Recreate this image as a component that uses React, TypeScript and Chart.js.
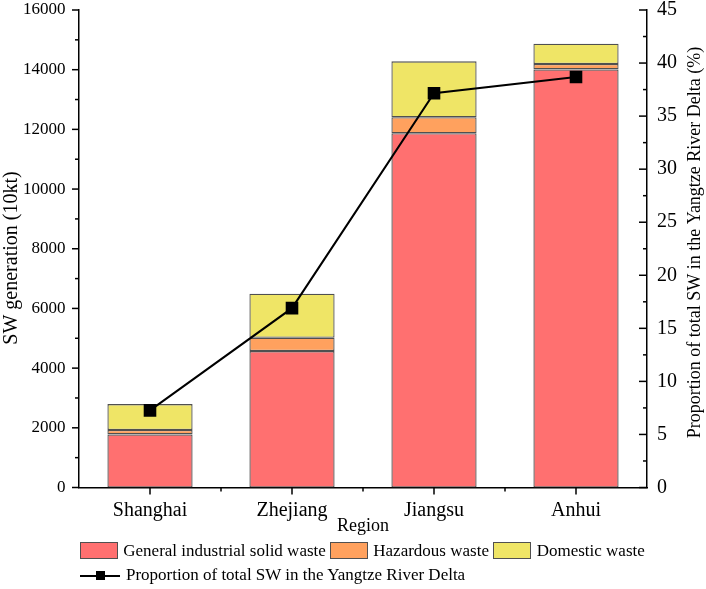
import React, { useEffect, useRef } from "react";
import { Chart, registerables } from "chart.js";

Chart.register(...registerables);

const regions = ["Shanghai", "Zhejiang", "Jiangsu", "Anhui"];
const generalIndustrial = [1780, 4570, 11870, 14010];
const hazardous = [145, 450, 535, 180];
const domestic = [870, 1475, 1875, 680];
const proportion = [7.27, 16.9, 37.15, 38.68];

const seriesNames = [
  "General industrial solid waste",
  "Hazardous waste",
  "Domestic waste",
];
const lineName = "Proportion of total SW in the Yangtze River Delta";
const leftTitle = "SW generation (10kt)";
const rightTitle = "Proportion of total SW in the Yangtze River Delta (%)";
const xTitle = "Region";

const colors = ["#FF7070", "#FFA15E", "#EFE566"];
const barBorder = "#505050";
const serif = '"Liberation Serif", "Times New Roman", serif';

// minor ticks, inward right ticks and the two rotated axis titles
const axisDecor = {
  id: "axisDecor",
  afterDraw(chart: any) {
    const { ctx, chartArea } = chart;
    const { left, right, bottom } = chartArea;
    const y = chart.scales.y;
    const y1 = chart.scales.y1;
    const x = chart.scales.x;
    ctx.save();
    ctx.strokeStyle = "#000";
    ctx.lineWidth = 1.5;
    const seg = (x0: number, y0: number, x2: number, y2: number) => {
      ctx.beginPath();
      ctx.moveTo(x0, y0);
      ctx.lineTo(x2, y2);
      ctx.stroke();
    };
    for (let v = 0; v <= 16000; v += 1000) {
      const py = y.getPixelForValue(v);
      seg(left - (v % 2000 === 0 ? 7 : 4), py, left, py);
    }
    for (let v = 0; v <= 45; v += 2.5) {
      const py = y1.getPixelForValue(v);
      seg(right - (v % 5 === 0 ? 8 : 4), py, right, py);
    }
    for (let i = 0; i < regions.length; i++) {
      const px = x.getPixelForValue(i);
      seg(px, bottom, px, bottom + 7);
      if (i < regions.length - 1) {
        const mx = (px + x.getPixelForValue(i + 1)) / 2;
        seg(mx, bottom, mx, bottom + 4);
      }
    }
    ctx.fillStyle = "#000";
    ctx.textAlign = "center";
    ctx.textBaseline = "alphabetic";

    ctx.save();
    ctx.font = `20px ${serif}`;
    ctx.translate(17, 258);
    ctx.rotate(-Math.PI / 2);
    ctx.fillText(leftTitle, 0, 0);
    ctx.restore();

    ctx.save();
    ctx.font = `18px ${serif}`;
    ctx.translate(700, 242.5);
    ctx.rotate(-Math.PI / 2);
    ctx.fillText(rightTitle, 0, 0);
    ctx.restore();

    ctx.restore();
  },
};

const ChartView: React.FC = () => {
  const chartRef = useRef<HTMLCanvasElement | null>(null);
  const chartInstance = useRef<Chart | null>(null);

  useEffect(() => {
    if (!chartRef.current) return;
    if (chartInstance.current) chartInstance.current.destroy();

    const barSet = (label: string, data: number[], color: string) => ({
      type: "bar" as const,
      label,
      data,
      backgroundColor: color,
      borderColor: barBorder,
      borderWidth: 1.3,
      borderSkipped: false,
      barPercentage: 0.6,
      categoryPercentage: 1,
      yAxisID: "y",
      order: 1,
    });

    // keep the plot box fixed: 79..647 wide, 10..487.5 high
    const fixVertical = (width: number) => (s: any) => {
      s.width = width;
      s.paddingTop = 10;
      s.paddingBottom = 0;
    };

    chartInstance.current = new Chart(chartRef.current, {
      type: "bar",
      data: {
        labels: regions,
        datasets: [
          {
            type: "line",
            label: lineName,
            data: proportion,
            borderColor: "#000",
            backgroundColor: "#000",
            borderWidth: 2,
            pointStyle: "rect",
            pointRadius: 7.5,
            pointBackgroundColor: "#000",
            pointBorderColor: "#000",
            yAxisID: "y1",
            order: 0,
          } as any,
          barSet(seriesNames[0], generalIndustrial, colors[0]),
          barSet(seriesNames[1], hazardous, colors[1]),
          barSet(seriesNames[2], domestic, colors[2]),
        ],
      },
      options: {
        animation: false,
        responsive: false,
        layout: { padding: { top: 0, left: 0, right: 0, bottom: 0 } },
        plugins: {
          legend: { display: false },
          tooltip: { enabled: false },
        },
        scales: {
          x: {
            stacked: true,
            offset: true,
            grid: { display: false, drawTicks: false },
            border: { display: true, color: "#000", width: 1.5 },
            ticks: {
              color: "#000",
              font: { family: serif, size: 20 },
              padding: 11,
            },
            title: {
              display: true,
              text: xTitle,
              color: "#000",
              font: { family: serif, size: 18 },
              padding: { top: 0, bottom: 52 },
            },
            afterFit: (s: any) => {
              s.height = 101.5;
              s.paddingLeft = 0;
              s.paddingRight = 0;
            },
          },
          y: {
            stacked: true,
            min: 0,
            max: 16000,
            grid: { display: false, drawTicks: false },
            border: { display: true, color: "#000", width: 1.5 },
            ticks: {
              stepSize: 2000,
              color: "#000",
              font: { family: serif, size: 17, lineHeight: 1 },
              padding: 13.5,
              callback: (v: any) => String(v),
            },
            afterFit: fixVertical(79),
          },
          y1: {
            position: "right",
            min: 0,
            max: 45,
            grid: { display: false, drawTicks: false },
            border: { display: true, color: "#000", width: 1.5 },
            ticks: {
              stepSize: 5,
              color: "#000",
              font: { family: serif, size: 20, lineHeight: 1 },
              padding: 10,
            },
            afterFit: fixVertical(59),
          },
        },
      },
      plugins: [axisDecor],
    });

    return () => {
      if (chartInstance.current) {
        chartInstance.current.destroy();
        chartInstance.current = null;
      }
    };
  }, []);

  const swatch = (left: number, color: string): React.CSSProperties => ({
    position: "absolute",
    left,
    top: 541.5,
    width: 37.5,
    height: 17,
    boxSizing: "border-box",
    background: color,
    border: `1.3px solid ${barBorder}`,
  });
  const label = (left: number, top: number): React.CSSProperties => ({
    position: "absolute",
    left,
    top,
    fontFamily: serif,
    fontSize: 17,
    lineHeight: "17px",
    color: "#000",
    whiteSpace: "nowrap",
  });

  return (
    <div
      style={{
        position: "absolute",
        left: 0,
        top: 0,
        width: 706,
        height: 589,
        background: "#fff",
      }}
    >
      <canvas ref={chartRef} width={706} height={589} style={{ display: "block" }} />
      <div style={swatch(80, colors[0])} />
      <div style={label(123.3, 542)}>{seriesNames[0]}</div>
      <div style={swatch(330, colors[1])} />
      <div style={label(373.3, 542)}>{seriesNames[1]}</div>
      <div style={swatch(493.3, colors[2])} />
      <div style={label(536.7, 542)}>{seriesNames[2]}</div>
      <div
        style={{
          position: "absolute",
          left: 80,
          top: 574.5,
          width: 40,
          height: 2,
          background: "#000",
        }}
      />
      <div
        style={{
          position: "absolute",
          left: 95.5,
          top: 571,
          width: 9,
          height: 9,
          background: "#000",
        }}
      />
      <div style={label(126, 566)}>{lineName}</div>
    </div>
  );
};

export default function App() {
  return <ChartView />;
}
